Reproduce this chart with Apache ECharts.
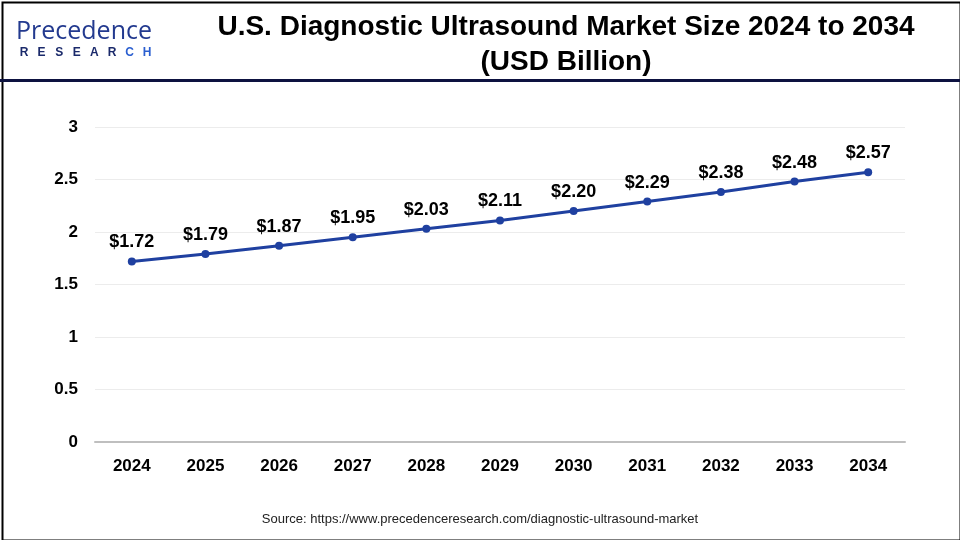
<!DOCTYPE html>
<html><head><meta charset="utf-8">
<script src="https://cdn.jsdelivr.net/npm/echarts@6/dist/echarts.min.js"></script>
<style>html,body{margin:0;padding:0;background:#fff}#c{width:960px;height:540px}</style>
</head><body><div id="c"></div>
<script>
const years = ['2024','2025','2026','2027','2028','2029','2030','2031','2032','2033','2034'];
const marketSize = [1.72,1.79,1.87,1.95,2.03,2.11,2.20,2.29,2.38,2.48,2.57];
const yTicks = [0,0.5,1,1.5,2,2.5,3];

const researchLetters = 'RESEARCH'.split('').map((ch,i)=>({
  type:'text',silent:true,
  style:{text:ch,x:24+i*17.6,y:53,align:'center',verticalAlign:'middle',
    font:'bold 12px "Liberation Sans",Arial,sans-serif',fill:i>=6?'#2b5fd0':'#1b2a6b'}
}));

const chart = echarts.init(document.getElementById('c'), null, {renderer:'canvas'});
chart.setOption({
  backgroundColor:'#fff',
  animation:false,
  title:{
    text:'U.S. Diagnostic Ultrasound Market Size 2024 to 2034\n(USD Billion)',
    left:561, top:5, textAlign:'center',
    textStyle:{fontFamily:'"Liberation Sans",Arial,sans-serif',fontWeight:'bold',fontSize:28,lineHeight:35,color:'#000'}
  },
  graphic:[
    {type:'rect',left:0,top:0,shape:{width:958,height:538},style:{fill:'none',stroke:'#000',lineWidth:2},silent:true},
    {type:'rect',left:0,top:79,shape:{width:960,height:3},style:{fill:'#0d1240'},silent:true},
    {type:'text',silent:true,style:{x:16,y:32,verticalAlign:'middle',text:'Precedence',font:'500 25px "Open Sans",Arial,sans-serif',fill:'#233a8f'}},
    ...researchLetters,
    {type:'text',silent:true,style:{x:480,y:519,align:'center',verticalAlign:'middle',text:'Source: https://www.precedenceresearch.com/diagnostic-ultrasound-market',font:'13px "Liberation Sans",Arial,sans-serif',fill:'#222'}}
  ],
  grid:{left:95,right:55,top:127,bottom:98,containLabel:false},
  xAxis:{
    type:'category',data:years,boundaryGap:true,
    axisLine:{lineStyle:{color:'#bfbfbf',width:2}},
    axisTick:{show:false},
    axisLabel:{color:'#000',fontWeight:'bold',fontSize:17,margin:16,fontFamily:'"Liberation Sans",Arial,sans-serif'}
  },
  yAxis:{
    type:'value',min:yTicks[0],max:yTicks[yTicks.length-1],interval:0.5,
    axisLine:{show:false},axisTick:{show:false},
    splitLine:{lineStyle:{color:'#ececec',width:1}},
    axisLabel:{color:'#000',fontWeight:'bold',fontSize:17,margin:17,fontFamily:'"Liberation Sans",Arial,sans-serif'}
  },
  series:[{
    type:'line',data:marketSize,
    symbol:'circle',symbolSize:8,
    lineStyle:{color:'#1f40a0',width:3},
    itemStyle:{color:'#1f40a0'},
    label:{show:true,position:'top',distance:6,color:'#000',fontWeight:'bold',fontSize:18,fontFamily:'"Liberation Sans",Arial,sans-serif',
      formatter:p=>'$'+p.value.toFixed(2)}
  }]
});
</script></body></html>
